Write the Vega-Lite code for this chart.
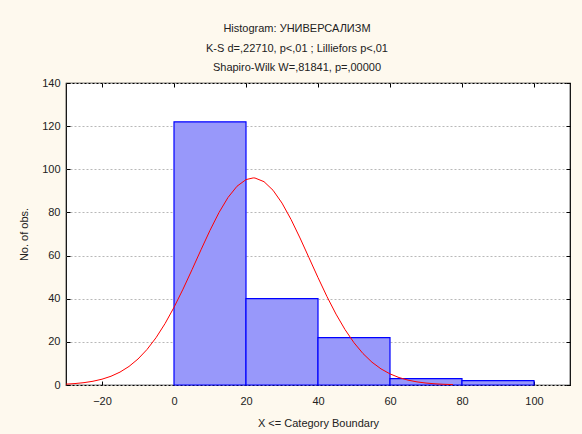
{
  "$schema": "https://vega.github.io/schema/vega-lite/v6.json",
  "width": 504,
  "height": 302,
  "autosize": {"type": "none"},
  "padding": {"left": 66, "top": 83, "right": 12, "bottom": 49},
  "background": "#FEF9EE",
  "title": {
    "text": ["Histogram: УНИВЕРСАЛИЗМ", "K-S d=,22710, p<,01 ; Lilliefors p<,01", "Shapiro-Wilk W=,81841, p=,00000"],
    "font": "Liberation Sans",
    "fontSize": 11,
    "fontWeight": "normal",
    "color": "#222222",
    "lineHeight": 19.5,
    "anchor": "middle",
    "frame": "group",
    "dx": -21,
    "offset": 4
  },
  "config": {
    "view": {"fill": "#ffffff", "stroke": "#000000", "strokeWidth": 1.2},
    "font": "Liberation Sans",
    "axis": {
      "labelFont": "Liberation Sans",
      "labelFontSize": 11,
      "labelColor": "#222222",
      "titleFont": "Liberation Sans",
      "titleFontSize": 11,
      "titleFontWeight": "normal",
      "titleColor": "#222222",
      "domainColor": "#000000",
      "tickColor": "#000000",
      "gridColor": "#b8b8b8",
      "gridDash": [2, 2],
      "gridWidth": 1
    }
  },
  "datasets": {
    "bars": [
      {"lo": 0, "hi": 20, "n": 122},
      {"lo": 20, "hi": 40, "n": 40},
      {"lo": 40, "hi": 60, "n": 22},
      {"lo": 60, "hi": 80, "n": 3},
      {"lo": 80, "hi": 100, "n": 2}
    ],
    "curve": [
      {"x": -30, "y": 0.40}, {"x": -27.5, "y": 0.67}, {"x": -25, "y": 1.09}, {"x": -22.5, "y": 1.74},
      {"x": -20, "y": 2.69}, {"x": -17.5, "y": 4.06}, {"x": -15, "y": 5.98}, {"x": -12.5, "y": 8.60},
      {"x": -10, "y": 12.05}, {"x": -7.5, "y": 16.45}, {"x": -5, "y": 21.91}, {"x": -2.5, "y": 28.44},
      {"x": 0, "y": 36.00}, {"x": 2.5, "y": 44.42}, {"x": 5, "y": 53.44}, {"x": 7.5, "y": 62.69},
      {"x": 10, "y": 71.70}, {"x": 12.5, "y": 79.96}, {"x": 15, "y": 86.93}, {"x": 17.5, "y": 92.14},
      {"x": 20, "y": 95.22}, {"x": 22, "y": 96.00}, {"x": 22.5, "y": 95.95}, {"x": 25, "y": 94.26},
      {"x": 27.5, "y": 90.29}, {"x": 30, "y": 84.33}, {"x": 32.5, "y": 76.78}, {"x": 35, "y": 68.16},
      {"x": 37.5, "y": 58.99}, {"x": 40, "y": 49.79}, {"x": 42.5, "y": 40.96}, {"x": 45, "y": 32.86},
      {"x": 47.5, "y": 25.70}, {"x": 50, "y": 19.59}, {"x": 52.5, "y": 14.57}, {"x": 55, "y": 10.56},
      {"x": 57.5, "y": 7.47}, {"x": 60, "y": 5.15}, {"x": 62.5, "y": 3.46}, {"x": 65, "y": 2.26},
      {"x": 67.5, "y": 1.44}, {"x": 70, "y": 0.90}, {"x": 72.5, "y": 0.55}, {"x": 75, "y": 0.32},
      {"x": 77.5, "y": 0.19}
    ]
  },
  "layer": [
    {
      "data": {"name": "bars"},
      "mark": {"type": "rect", "fill": "#9898FA", "stroke": "#0000FF", "strokeWidth": 1.2},
      "encoding": {
        "x": {
          "field": "lo", "type": "quantitative",
          "scale": {"domain": [-30, 110], "nice": false, "zero": false},
          "axis": {
            "orient": "bottom",
            "values": [-20, 0, 20, 40, 60, 80, 100],
            "title": "X <= Category Boundary",
            "grid": false,
            "domain": false,
            "ticks": true,
            "tickSize": -4,
            "labelPadding": 14,
            "titlePadding": 11
          }
        },
        "x2": {"field": "hi"},
        "y": {
          "field": "n", "type": "quantitative",
          "scale": {"domain": [0, 140], "nice": false, "zero": true},
          "axis": {
            "orient": "left",
            "values": [0, 20, 40, 60, 80, 100, 120, 140],
            "title": "No. of obs.",
            "grid": true,
            "domain": false,
            "ticks": true,
            "tickSize": -4,
            "labelPadding": 10,
            "titlePadding": 12
          }
        },
        "y2": {"datum": 0}
      }
    },
    {
      "data": {"name": "curve"},
      "mark": {"type": "line", "color": "#FF0000", "strokeWidth": 1, "clip": true},
      "encoding": {
        "x": {
          "field": "x", "type": "quantitative",
          "axis": {
            "orient": "top", "values": [-20, 0, 20, 40, 60, 80, 100],
            "labels": false, "domain": false, "grid": false, "ticks": true, "tickSize": -4, "title": null
          }
        },
        "y": {
          "field": "y", "type": "quantitative",
          "axis": {
            "orient": "right", "values": [0, 20, 40, 60, 80, 100, 120, 140],
            "labels": false, "domain": false, "grid": false, "ticks": true, "tickSize": -4, "title": null
          }
        }
      }
    }
  ],
  "resolve": {"axis": {"x": "independent", "y": "independent"}}
}
